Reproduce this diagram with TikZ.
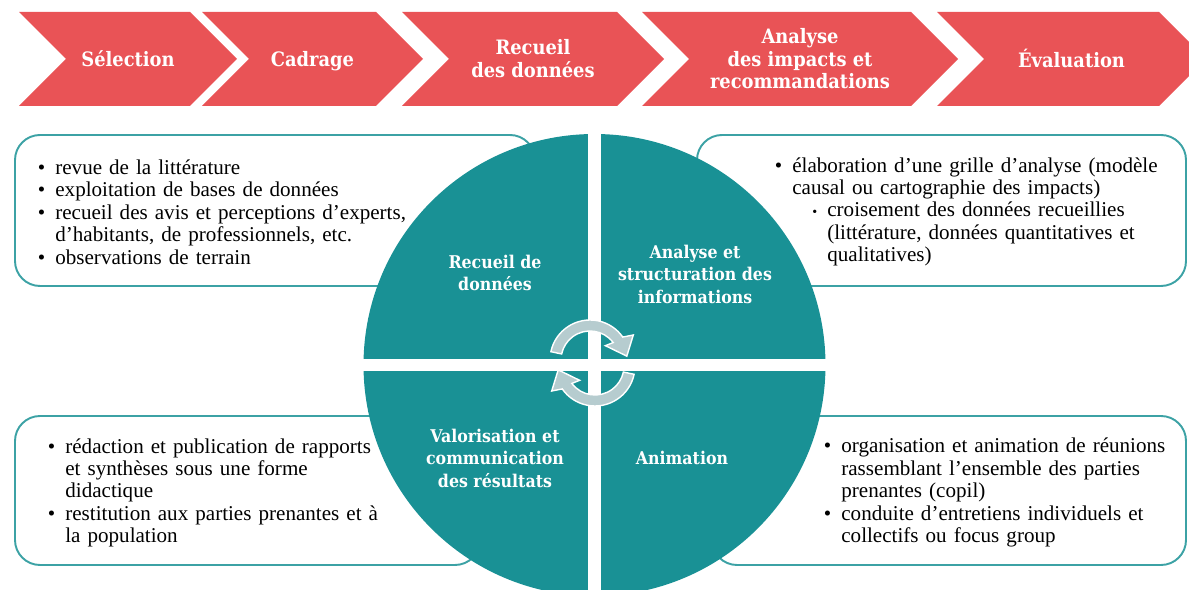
\documentclass[tikz,border=0pt]{standalone}
\usepackage{fontspec}
\usepackage{enumitem}
\setmainfont{Liberation Serif}
\newfontfamily\slabfont{DejaVu Serif Condensed}
\usetikzlibrary{positioning}
\definecolor{chevred}{RGB}{233,83,86}
\definecolor{wheelteal}{RGB}{25,145,149}
\definecolor{turngrey}{RGB}{182,204,207}
\def\rwheel{231}
\def\tipdepth{47}
\def\boxcol{wheelteal!85!white}
\setlist[itemize]{label=\textbullet,leftmargin=0.34cm,labelsep=0.2cm,itemsep=0pt,topsep=0pt,parsep=0pt,partopsep=0pt}
\setlist[itemize,2]{leftmargin=0.7cm,label=\footnotesize\textbullet}
\newcommand{\chevron}[2]{
	\fill[chevred] (#1,-12) -- (#2,-12) -- ++(\tipdepth,-\tipdepth) -- ++(-\tipdepth,-\tipdepth)
		-- (#1,-106) -- ++(\tipdepth,\tipdepth) -- cycle;}
\newcommand{\turnarrow}[2]{
	\begin{scope}[shift={#1},rotate=#2]
	\filldraw[fill=turngrey,draw=white,line width=0.8pt]
		(168:40) arc (168:35:40) -- (30:50) -- (6:37) -- (43:21) -- (37:29) arc (37:168:29) -- cycle;
	\end{scope}}

\begin{document}
\begin{tikzpicture}[x=0.02cm,y=0.02cm,
	steplabel/.style={text=white,font=\slabfont\bfseries\fontsize{11.3}{12.9}\selectfont,align=center,
		execute at begin node=\strut,execute at end node=\strut},
	wheellabel/.style={text=white,font=\slabfont\bfseries\fontsize{10}{12.8}\selectfont,align=center},
	notebox/.style={draw=\boxcol,line width=1.1pt,fill=white,rounded corners=0.5cm},
	notetext/.style={font=\fontsize{12}{12.8}\selectfont,anchor=west,inner sep=0pt,text width=9cm,align=left}]
\useasboundingbox (0,0) rectangle (1189,-590);
\clip (0,0) rectangle (1189,-590);
% process steps
\foreach \lx/\rx/\name/\txt in {19/190/sel/{Sélection}, 202/376/cad/{Cadrage},
		402/617/rec/{Recueil\\des données}, 642/911/ana/{Analyse\\des impacts et\\recommandations},
		937/1159/eva/{Évaluation}} {
	\chevron{\lx}{\rx}
	\node[steplabel] (\name) at ({(\lx+\tipdepth+\rx)/2},-62) {\txt};
}
% note boxes behind the wheel
\draw[notebox] (15,-135) rectangle (535,-286);
\draw[notebox] (697,-135) rectangle (1186,-286);
\draw[notebox] (15,-416) rectangle (480,-565);
\draw[notebox] (712,-416) rectangle (1186,-565);
% wheel
\begin{scope}
	\clip (594.5,-365) circle (\rwheel);
	\fill[wheelteal] (340,-100) rectangle (588,-359);
	\fill[wheelteal] (601,-100) rectangle (850,-359);
	\fill[wheelteal] (340,-371) rectangle (588,-620);
	\fill[wheelteal] (601,-371) rectangle (850,-620);
\end{scope}
\turnarrow{(590,-360)}{0}
\turnarrow{(595,-366)}{180}
\node[wheellabel] (collect) at (495,-273) {Recueil de\\données};
\node[wheellabel] (analyse) at (695,-274) {Analyse et\\structuration des\\informations};
\node[wheellabel] (share) at (495,-458) {Valorisation et\\communication\\des résultats};
\node[wheellabel] (animate) at (682,-458) {Animation};
% notes
\node[notetext] (notecollect) at (38,-208) {\begin{itemize}
	\item revue de la littérature
	\item exploitation de bases de données
	\item recueil des avis et perceptions d’experts,\newline d’habitants, de professionnels, etc.
	\item observations de terrain
\end{itemize}};
\node[notetext] (noteanalyse) at (775,-208) {\begin{itemize}
	\item élaboration d’une grille d’analyse (modèle\newline causal ou cartographie des impacts)
	\begin{itemize}
		\item croisement des données recueillies\newline (littérature, données quantitatives et\newline qualitatives)
	\end{itemize}
\end{itemize}};
\node[notetext] (noteshare) at (48,-489) {\begin{itemize}
	\item rédaction et publication de rapports\newline et synthèses sous une forme\newline didactique
	\item restitution aux parties prenantes et à\newline la population
\end{itemize}};
\node[notetext] (noteanimate) at (824,-489) {\begin{itemize}
	\item organisation et animation de réunions\newline rassemblant l’ensemble des parties\newline prenantes (copil)
	\item conduite d’entretiens individuels et\newline collectifs ou focus group
\end{itemize}};
\end{tikzpicture}
\end{document}
